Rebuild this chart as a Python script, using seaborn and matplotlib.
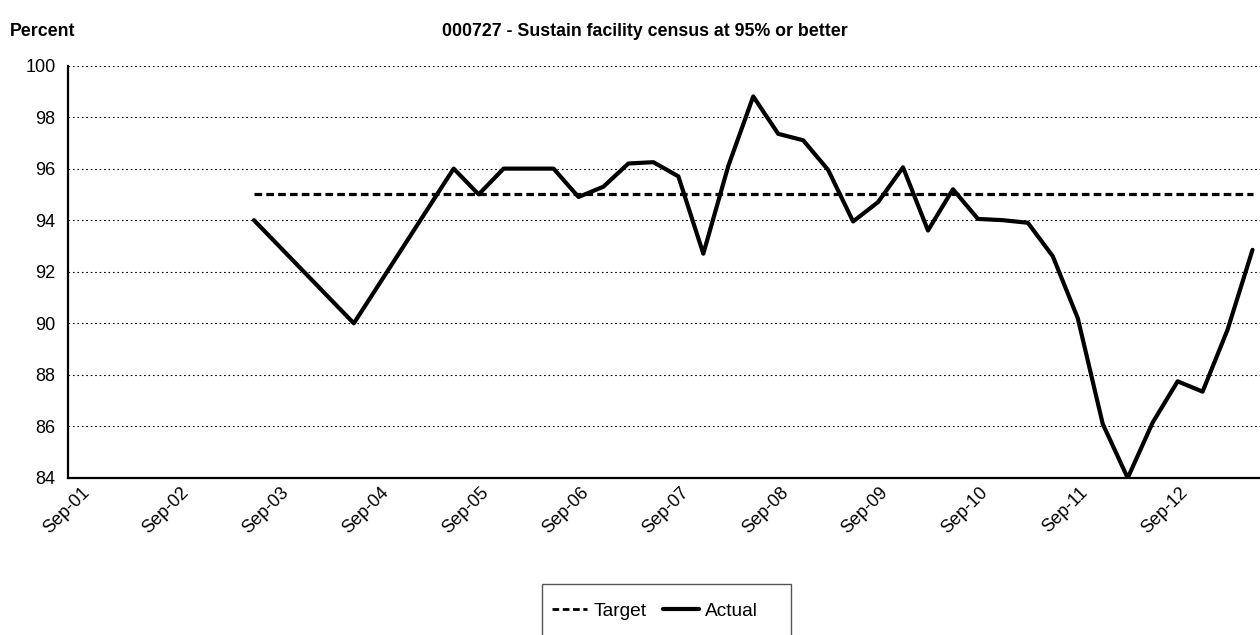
import matplotlib
matplotlib.use("Agg")
import matplotlib.pyplot as plt
import matplotlib.transforms as mtransforms
from matplotlib.patches import Rectangle
import seaborn as sns
import pandas as pd
from matplotlib.lines import Line2D

# ---- data ----
axis_start = "2001Q3"   # Sep-01
actual_periods = ["2003Q2", "2004Q2"] + [str(p) for p in pd.period_range("2005Q2", "2013Q2", freq="Q")]
actual_values = [94.0, 90.0, 96.0, 95.0, 96.0, 96.0, 96.0, 94.9, 95.3, 96.2, 96.25, 95.7,
                 92.7, 96.1, 98.8, 97.35, 97.1, 95.95, 93.95, 94.7, 96.05, 93.6, 95.2,
                 94.05, 94.0, 93.9, 92.6, 90.2, 86.1, 84.0, 86.15, 87.75, 87.35, 89.75, 92.85]
target_periods = ["2003Q2", "2013Q2"]
target_values = [95.0, 95.0]
tick_labels = ["Sep-01", "Sep-02", "Sep-03", "Sep-04", "Sep-05", "Sep-06",
               "Sep-07", "Sep-08", "Sep-09", "Sep-10", "Sep-11", "Sep-12"]
y_ticks = [84, 86, 88, 90, 92, 94, 96, 98, 100]

start = pd.Period(axis_start, freq="Q")
def qidx(p):
    return (pd.Period(p, freq="Q") - start).n

df_actual = pd.DataFrame({"q": [qidx(p) for p in actual_periods], "v": actual_values})
df_target = pd.DataFrame({"q": [qidx(p) for p in target_periods], "v": target_values})
tick_pos = [4 * i for i in range(len(tick_labels))]

sns.set_theme(style="white")
plt.rcParams["font.family"] = ["Liberation Sans", "DejaVu Sans"]
plt.rcParams["text.color"] = "black"
plt.rcParams["xtick.color"] = "black"
plt.rcParams["ytick.color"] = "black"
plt.rcParams["axes.labelcolor"] = "black"

W, H = 1260, 635
fig = plt.figure(figsize=(W/100, H/100), dpi=100)
ax = fig.add_axes([68/W, 1 - 478/H, 1 - 68/W, (478 - 65.5)/H])

sns.lineplot(data=df_target, x="q", y="v", ax=ax, color="black", lw=2.3,
             linestyle=(0, (2.4, 1.3)), legend=False)
sns.lineplot(data=df_actual, x="q", y="v", ax=ax, color="black", lw=3.0, legend=False)

ax.set_xlim(-0.45, 47.3)
ax.set_ylim(84, 100)
ax.set_yticks(y_ticks)
ax.set_yticklabels([str(t) for t in y_ticks], fontsize=13)
ax.set_xticks(tick_pos)
ax.set_xticklabels(tick_labels, fontsize=13, rotation=45, ha="right",
                   va="center", rotation_mode="anchor")
ax.tick_params(axis="x", length=0, pad=8.5)
ax.tick_params(axis="y", length=0, pad=9)
shift = mtransforms.ScaledTranslation(0.075, 0, fig.dpi_scale_trans)
for lbl in ax.get_xticklabels():
    lbl.set_transform(lbl.get_transform() + shift)
ax.set_xlabel("")
ax.set_ylabel("")

ax.yaxis.grid(True, color="black", linestyle=(0, (1.5, 2.5)), linewidth=0.8)
ax.xaxis.grid(False)
for s in ["top", "right"]:
    ax.spines[s].set_visible(False)
for s in ["left", "bottom"]:
    ax.spines[s].set_color("black")
    ax.spines[s].set_linewidth(1.6)
ax.set_axisbelow(True)

fig.text(10/W, 1 - 31/H, "Percent", fontsize=12.8, fontweight="bold",
         ha="left", va="center")
fig.text(645/W, 1 - 31/H, "000727 - Sustain facility census at 95% or better",
         fontsize=12.8, fontweight="bold", ha="center", va="center")

# legend frame (extends past the bottom edge like the reference)
fig.patches.append(Rectangle((542/W, -0.05), (791 - 542)/W, (1 - 584/H) + 0.05,
                             transform=fig.transFigure, fill=False,
                             edgecolor="#555555", linewidth=1.0))
handles = [Line2D([], [], color="black", lw=2.0, linestyle=(0, (2.4, 1.3))),
           Line2D([], [], color="black", lw=3.0)]
leg = fig.legend(handles, ["Target", "Actual"], loc="center left",
                 bbox_to_anchor=(552/W, 1 - 611/H), ncol=2, fontsize=13.8,
                 frameon=False, handlelength=1.85, handletextpad=0.3,
                 columnspacing=0.9, borderpad=0, borderaxespad=0)

fig.savefig("out.png", dpi=100)
